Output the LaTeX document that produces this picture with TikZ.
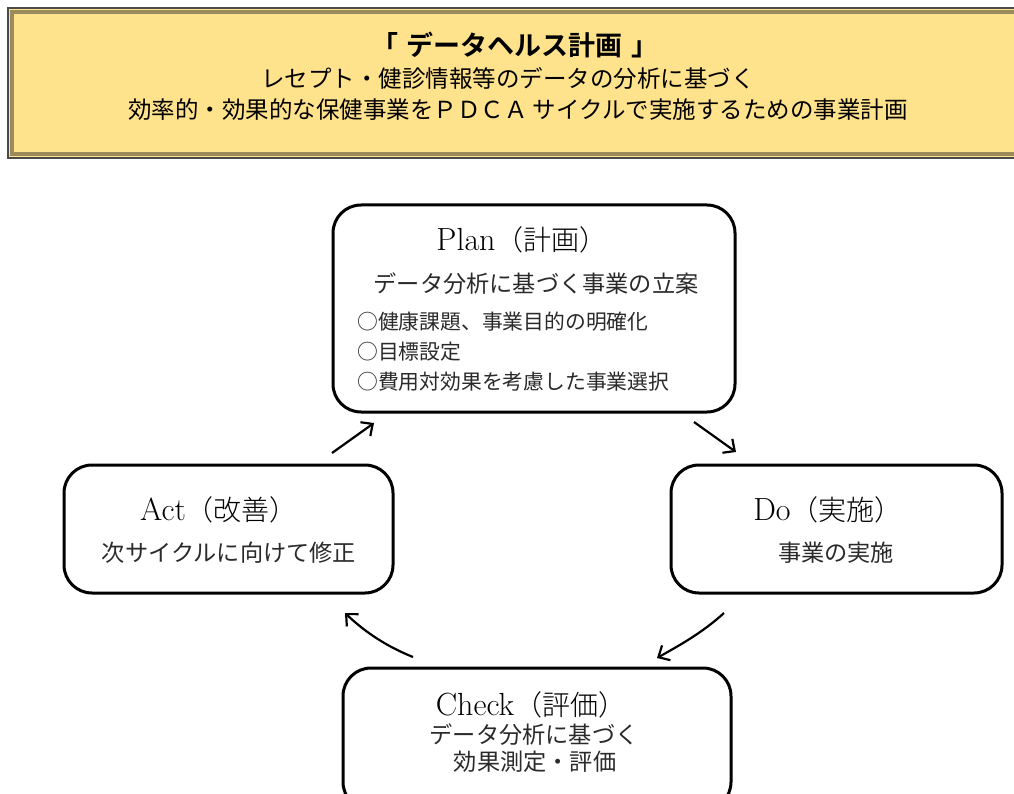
\documentclass[tikz,border=0pt]{standalone}
\usepackage{fontspec}
\usetikzlibrary{arrows.meta}
\newfontfamily\jp{Noto Sans CJK JP}
\newfontfamily\jpb{Noto Sans CJK JP Bold}
\newfontfamily\jpl{Noto Sans CJK JP Light}
\definecolor{hdrfill}{HTML}{FFE28C}
\definecolor{hdrdark}{HTML}{4A4A4A}
\definecolor{hdrmid}{HTML}{9A8A5C}
\definecolor{txt}{HTML}{2A2A2A}
\newcommand{\phj}[1]{{\jpl\fontsize{28}{30}\selectfont #1}}
\tikzset{
  stagebox/.style={draw=black, line width=3pt, rounded corners=28pt, fill=white},
  headtxt/.style={font=\jp\fontsize{23.5}{26}\selectfont, text=black, inner sep=0pt},
  phase/.style={font=\fontsize{32}{34}\selectfont, text=black, inner sep=0pt},
  body/.style={font=\jp\fontsize{23.2}{26}\selectfont, text=txt, inner sep=0pt},
  item/.style={font=\jp\fontsize{20.8}{24}\selectfont, text=txt, inner sep=0pt, anchor=west},
  cyc/.style={line width=2.2pt, -{Straight Barb[length=9pt,width=17pt,line width=2.2pt]}}
}
\begin{document}
\begin{tikzpicture}[x=1pt,y=-1pt]
\useasboundingbox (0,0) rectangle (1014,794);
% header
\fill[hdrfill] (8,8) rectangle (1030,158);
\draw[hdrmid, line width=4pt] (12,12) rectangle (1034,154);
\draw[hdrdark, line width=2.5pt] (8,8) rectangle (1038,158);
\node[headtxt, font=\jpb\fontsize{27}{29}\selectfont] (title) at (515,45) {「\hspace{9pt}データヘルス計画\hspace{9pt}」};
\node[headtxt] (sub1) at (508,78) {レセプト・健診情報等のデータの分析に基づく};
\node[headtxt] (sub2) at (518,110) {効率的・効果的な保健事業をＰＤＣＡ サイクルで実施するための事業計画};
% boxes
\node[stagebox, minimum width=402pt, minimum height=207pt] (plan) at (534,308.5) {};
\node[stagebox, minimum width=329pt, minimum height=128pt] (act) at (228.5,529) {};
\node[stagebox, minimum width=331pt, minimum height=128pt] (do) at (836.5,529) {};
\node[stagebox, minimum width=388pt, minimum height=142pt] (check) at (537,739) {};
% plan text
\node[phase] (plant) at (522,240) {Plan\phj{（計画）}};
\node[body] (planb) at (536,284) {データ分析に基づく事業の立案};
\node[item] (pl1) at (357,322) {○健康課題、事業目的の明確化};
\node[item] (pl2) at (357,352) {○目標設定};
\node[item] (pl3) at (357,382) {○費用対効果を考慮した事業選択};
% act text
\node[phase] (actt) at (219,510) {Act\phj{（改善）}};
\node[body] (actb) at (229,553) {次サイクルに向けて修正};
% do text
\node[phase] (dot) at (828,510) {Do\phj{（実施）}};
\node[body] (dob) at (836,553) {事業の実施};
% check text
\node[phase] (checkt) at (531,705) {Check\phj{（評価）}};
\node[body] (checkb1) at (534,735) {データ分析に基づく};
\node[body] (checkb2) at (535,762) {効果測定・評価};
% arrows
\coordinate (a1s) at (332,453); \coordinate (a1e) at (374,423);
\coordinate (a2s) at (694,422); \coordinate (a2e) at (736,452);
\coordinate (a3s) at (724,613); \coordinate (a3e) at (657,658);
\coordinate (a4s) at (413,657); \coordinate (a4e) at (345,613);
\draw[cyc] (a1s) -- (a1e);
\draw[cyc] (a2s) -- (a2e);
\draw[cyc] (a3s) .. controls (702,633) and (680,645) .. (a3e);
\draw[cyc] (a4s) .. controls (388,647) and (366,633) .. (a4e);
\end{tikzpicture}
\end{document}
